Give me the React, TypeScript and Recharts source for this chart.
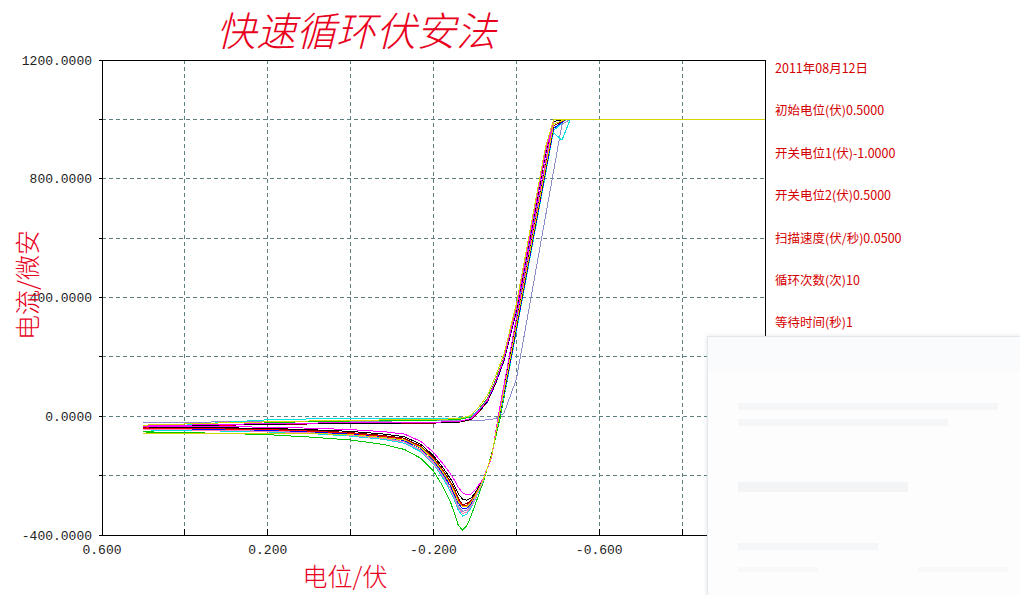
import React from "react";
import { LineChart, Line, XAxis, YAxis, CartesianGrid, ReferenceLine } from "recharts";

// potential grid (V) for the forward scan 0.5 -> -1.0 and the reverse scan -1.0 -> 0.5
const fwdV = [0.5, 0.4, 0.3, 0.2, 0.1, 0.0, -0.1, -0.2, -0.26, -0.29, -0.31, -0.33, -0.35, -0.37, -0.4, -0.44, -0.47, -0.49, -0.51, -0.53, -1.0];
const revV = [-1.0, -0.52, -0.49, -0.46, -0.42, -0.38, -0.36, -0.34, -0.32, -0.3, -0.29, -0.28, -0.27, -0.26, -0.25, -0.24, -0.22, -0.2, -0.17, -0.13, -0.08, 0.0, 0.1, 0.2, 0.3, 0.4, 0.5];

// current (uA), one pair of arrays per cycle
const lilacFwd = [-22, -20, -19, -18, -17, -16, -16, -15, -15, -15, -14, -12, -8, 10, 125, 437, 671, 827, 983, 1000, 1000];
const lilacRev = [1000, 1000, 978, 752, 451, 150, 12, -133, -216, -275, -300, -318, -320, -304, -268, -240, -193, -154, -114, -86, -73, -62, -55, -50, -47, -45, -43];
const greenFwd = [-53, -40, -30, -22, -18, -16, -14, -13, -11, -3, 24, 60, 122, 198, 364, 665, 891, 1000, 1000, 1000, 1000];
const greenRev = [1000, 1000, 963, 737, 436, 135, -12, -128, -222, -300, -338, -370, -383, -368, -325, -285, -230, -185, -142, -112, -95, -80, -70, -62, -58, -55, -53];
const cyanFwd = [-46, -30, -20, -12, -9, -8, -8, -7, -6, 0, 22, 56, 118, 190, 350, 648, 880, 955, 930, 1000, 1000];
const cyanRev = [1000, 1000, 963, 737, 436, 135, 4, -131, -217, -282, -310, -330, -336, -317, -281, -250, -203, -161, -120, -91, -78, -67, -58, -53, -50, -48, -46];
const blueFwd = [-42, -35, -30, -27, -25, -24, -23, -22, -20, -11, 14, 48, 110, 186, 352, 652, 878, 1000, 1000, 1000, 1000];
const blueRev = [1000, 1000, 970, 745, 444, 143, 8, -133, -215, -272, -296, -310, -312, -293, -262, -233, -188, -149, -109, -82, -70, -60, -52, -47, -45, -43, -42];
const pinkFwd = [-44, -36, -30, -26, -24, -22, -21, -20, -18, -9, 16, 52, 114, 190, 357, 658, 884, 1000, 1000, 1000, 1000];
const pinkRev = [1000, 1000, 993, 767, 466, 165, 10, -132, -217, -278, -305, -324, -327, -310, -273, -243, -196, -157, -116, -87, -75, -64, -56, -51, -48, -46, -44];
const maroonFwd = [-39, -34, -30, -28, -26, -25, -24, -23, -21, -11, 15, 50, 112, 190, 355, 655, 880, 1000, 1000, 1000, 1000];
const maroonRev = [1000, 1000, 978, 752, 451, 150, 10, -134, -213, -264, -285, -294, -298, -276, -244, -218, -176, -139, -101, -74, -65, -55, -48, -44, -42, -40, -39];
const redFwd = [-40, -34, -30, -27, -25, -24, -23, -22, -19, -9, 18, 53, 116, 194, 360, 662, 888, 1000, 1000, 1000, 1000];
const redRev = [1000, 1000, 1000, 775, 474, 173, 16, -136, -214, -267, -288, -300, -300, -283, -251, -223, -180, -143, -104, -78, -68, -57, -50, -45, -43, -41, -40];
const blackFwd = [-36, -32, -29, -27, -25, -24, -23, -22, -20, -10, 17, 52, 115, 192, 360, 660, 886, 1000, 1000, 1000, 1000];
const blackRev = [1000, 1000, 993, 767, 466, 165, 18, -136, -212, -259, -276, -283, -279, -262, -232, -208, -168, -133, -95, -69, -60, -51, -45, -41, -39, -38, -36];
const magentaFwd = [-33, -30, -27, -25, -23, -22, -21, -20, -18, -8, 20, 55, 118, 195, 362, 663, 889, 1000, 1000, 1000, 1000];
const magentaRev = [1000, 1000, 1000, 782, 481, 180, 30, -140, -210, -250, -262, -265, -258, -240, -214, -192, -155, -122, -85, -60, -52, -45, -40, -37, -35, -34, -33];
const yellowFwd = [-30, -26, -22, -19, -16, -14, -12, -11, -8, 2, 32, 70, 135, 210, 378, 679, 905, 1000, 1000, 1000, 1000];
const yellowRev = [1000, 1000, 985, 760, 459, 158, 14, -135, -214, -269, -291, -305, -305, -288, -255, -226, -183, -146, -106, -80, -72, -62, -58, -57, -57, -58, -58];

const xTicks = [0.6, 0.4, 0.2, 0, -0.2, -0.4, -0.6, -0.8, -1.0];
const yTicks = [-400, -200, 0, 200, 400, 600, 800, 1000, 1200];

const notes = [
  "2011年08月12日",
  "初始电位(伏)0.5000",
  "开关电位1(伏)-1.0000",
  "开关电位2(伏)0.5000",
  "扫描速度(伏/秒)0.0500",
  "循环次数(次)10",
  "等待时间(秒)1",
];

const cycles = [
  { color: "#8c8cc8", fwd: lilacFwd, rev: lilacRev },
  { color: "#00c800", fwd: greenFwd, rev: greenRev },
  { color: "#00e0e0", fwd: cyanFwd, rev: cyanRev },
  { color: "#0000ff", fwd: blueFwd, rev: blueRev },
  { color: "#ff80c0", fwd: pinkFwd, rev: pinkRev },
  { color: "#800000", fwd: maroonFwd, rev: maroonRev },
  { color: "#ff0000", fwd: redFwd, rev: redRev },
  { color: "#000000", fwd: blackFwd, rev: blackRev },
  { color: "#ff00ff", fwd: magentaFwd, rev: magentaRev },
  { color: "#d4d400", fwd: yellowFwd, rev: yellowRev },
];

const RED = "#d40000";
const CJK = "'Noto Sans CJK SC', sans-serif";

function YTick(props: any) {
  const { x, y, payload } = props;
  const v = payload.value;
  const label = v % 400 === 0 ? v.toFixed(4) : "";
  return (
    <text x={x} y={y} dy={4.5} textAnchor="end" fontFamily="'Liberation Mono', monospace" fontSize={13} fill="#222">
      {label}
    </text>
  );
}

function XTick(props: any) {
  const { x, y, payload } = props;
  const v = payload.value;
  const show = Math.abs(Math.round(v * 10) % 4) === 2;
  return (
    <g>
      <line x1={x} x2={x} y1={y} y2={y - 6} stroke="#000" shapeRendering="crispEdges" />
      {show && (
        <text x={x} y={y + 19} textAnchor="middle" fontFamily="'Liberation Mono', monospace" fontSize={13} fill="#222">
          {v.toFixed(3)}
        </text>
      )}
    </g>
  );
}

export default function App() {
  return (
    <div style={{ position: "absolute", left: 0, top: 0, width: 1020, height: 595, background: "#fff", overflow: "hidden" }}>
      <style>{".recharts-surface line, .recharts-surface path { shape-rendering: crispEdges; }"}</style>
      <LineChart width={1020} height={595} margin={{ top: 60, right: 255, bottom: 30, left: 0 }}>
        <CartesianGrid stroke="#5f8080" strokeDasharray="4 3" />
        <XAxis
          type="number"
          dataKey="v"
          domain={[-1.0, 0.6]}
          reversed
          ticks={xTicks}
          interval={0}
          height={30}
          tickSize={0}
          tickMargin={0}
          tickLine={false}
          axisLine={{ stroke: "#000" }}
          tick={XTick}
        />
        <YAxis
          type="number"
          domain={[-400, 1200]}
          ticks={yTicks}
          interval={0}
          width={102}
          tickSize={3}
          tickMargin={7}
          tickLine={{ stroke: "#000" }}
          axisLine={{ stroke: "#000" }}
          tick={YTick}
        />
        <ReferenceLine y={1200} stroke="#000" />
        <ReferenceLine x={-1.0} stroke="#000" />
        {cycles.map((c, k) => (
          <Line
            key={k}
            data={fwdV.map((v, j) => ({ v, i: c.fwd[j] })).concat(revV.map((v, j) => ({ v, i: c.rev[j] })))}
            dataKey="i"
            type="linear"
            stroke={c.color}
            strokeWidth={1}
            dot={false}
            isAnimationActive={false}
          />
        ))}
      </LineChart>

      {/* title and axis names */}
      <div style={{ position: "absolute", left: 216, top: 4, width: 300, height: 52, fontFamily: CJK, fontSize: 40, fontStyle: "italic", fontWeight: 300, color: "#e8001c", lineHeight: "50px", whiteSpace: "nowrap" }}>
        快速循环伏安法
      </div>
      <div style={{ position: "absolute", left: 26, top: 285, transform: "translate(-50%, -50%) rotate(-90deg)", fontFamily: CJK, fontSize: 25, fontWeight: 300, color: "#e8001c", whiteSpace: "nowrap", lineHeight: "28px" }}>
        电流/微安
      </div>
      <div style={{ position: "absolute", left: 345, top: 575, transform: "translate(-50%, -50%)", fontFamily: CJK, fontSize: 25, fontWeight: 300, color: "#e8001c", whiteSpace: "nowrap", lineHeight: "28px" }}>
        电位/伏
      </div>

      {/* parameter notes on the right */}
      {notes.map((t, k) => (
        <div key={k} style={{ position: "absolute", left: 775, top: 68 + k * 42.4 - 9, fontFamily: CJK, fontSize: 12.5, color: RED, lineHeight: "18px", whiteSpace: "nowrap" }}>
          {t}
        </div>
      ))}

      {/* popup window covering the lower right corner */}
      <div style={{ position: "absolute", left: 707, top: 336, width: 330, height: 280, background: "#fdfdfe", border: "1px solid #e2e7ed", boxShadow: "0 0 4px rgba(150,170,190,0.3)" }}>
        <div style={{ height: 34, background: "#fafbfc" }} />
        <div style={{ position: "absolute", left: 30, top: 66, width: 260, height: 7, background: "#f5f6f8" }} />
        <div style={{ position: "absolute", left: 30, top: 82, width: 210, height: 7, background: "#f5f6f8" }} />
        <div style={{ position: "absolute", left: 30, top: 145, width: 170, height: 10, background: "#f3f4f6" }} />
        <div style={{ position: "absolute", left: 30, top: 206, width: 140, height: 7, background: "#f5f6f8" }} />
        <div style={{ position: "absolute", left: 30, top: 230, width: 80, height: 5, background: "#f7f8f9" }} />
        <div style={{ position: "absolute", left: 210, top: 230, width: 90, height: 5, background: "#f7f8f9" }} />
      </div>
    </div>
  );
}
